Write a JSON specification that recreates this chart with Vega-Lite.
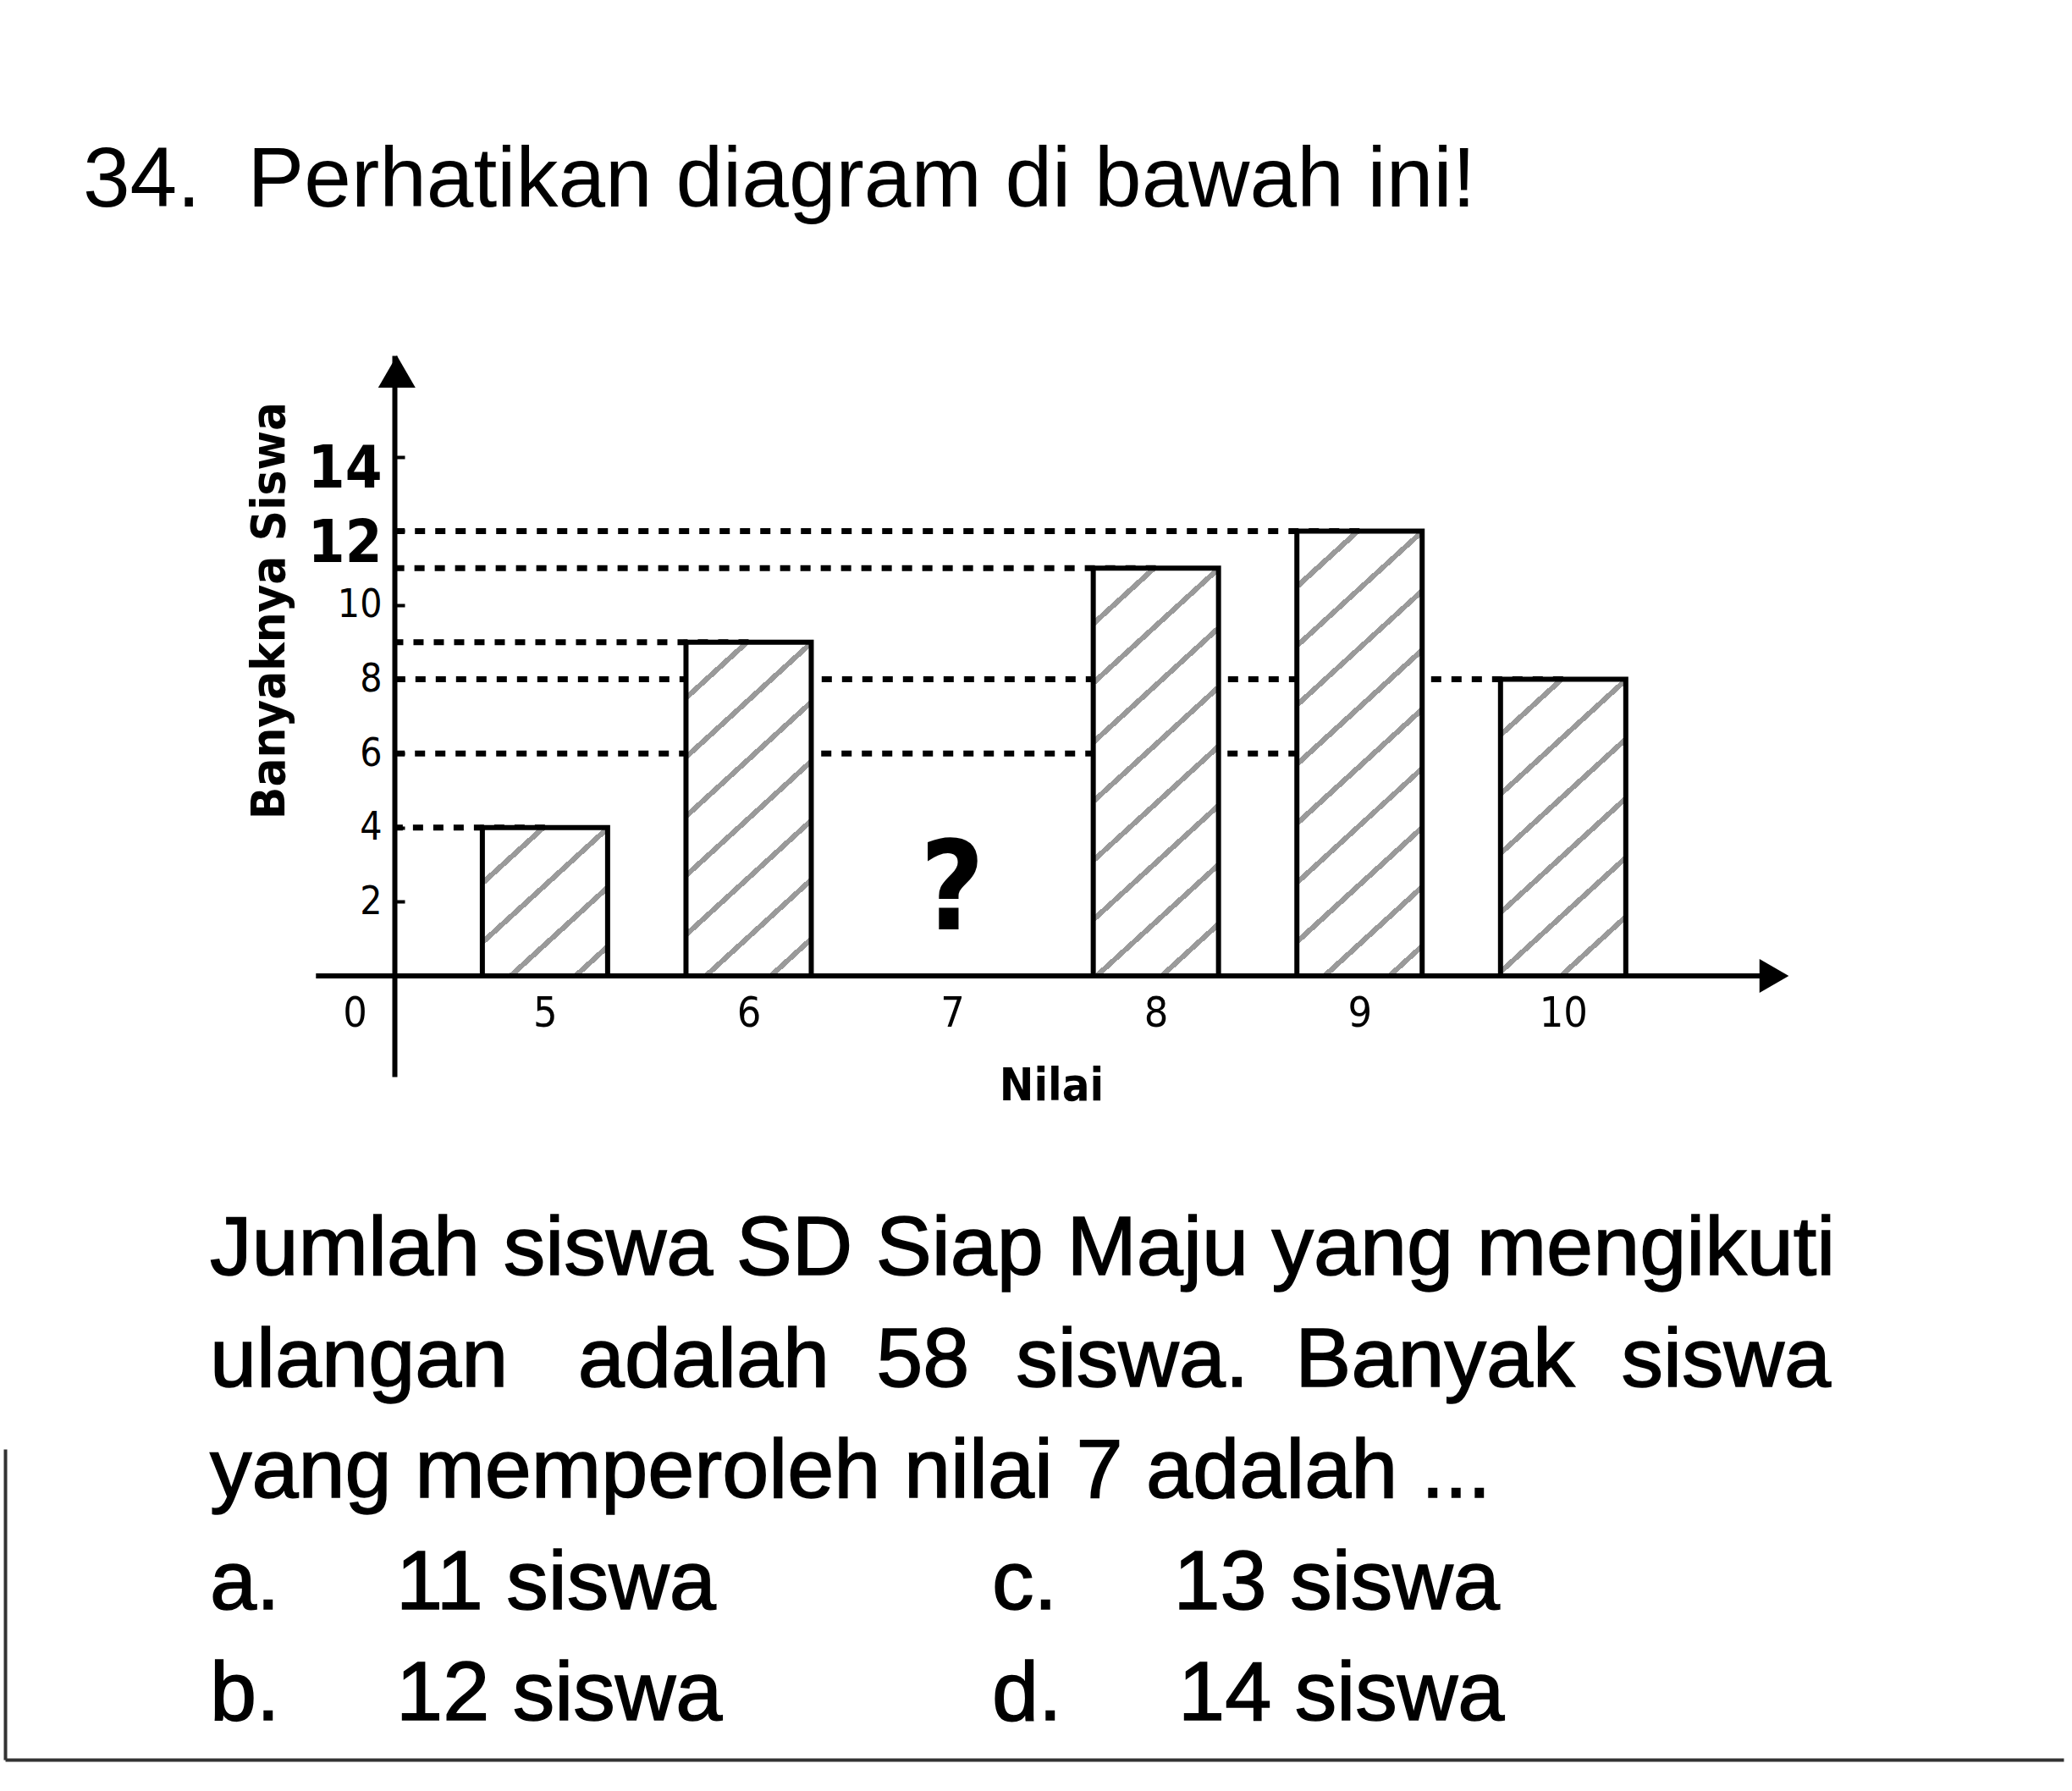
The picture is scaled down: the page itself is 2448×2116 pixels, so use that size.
{
  "$schema": "https://vega.github.io/schema/vega-lite/v6.json",
  "background": "white",
  "padding": {"left": 6, "top": 164, "right": 6, "bottom": 20},
  "bounds": "flush",
  "spacing": 440,
  "config": {"view": {"stroke": null}, "font": "Liberation Sans"},
  "datasets": {
    "nilai": [
      {"nilai": 5, "siswa": 4},
      {"nilai": 6, "siswa": 9},
      {"nilai": 7, "siswa": null, "keterangan": "?"},
      {"nilai": 8, "siswa": 11},
      {"nilai": 9, "siswa": 12},
      {"nilai": 10, "siswa": 8}
    ],
    "garis": [
      {"nilai": 9, "siswa": 12},
      {"nilai": 8, "siswa": 11},
      {"nilai": 6, "siswa": 9},
      {"nilai": 10, "siswa": 8},
      {"nilai": 9, "siswa": 6},
      {"nilai": 5, "siswa": 4}
    ],
    "soal": [
      {"baris": 1, "kolom": 1, "teks": "Jumlah siswa SD Siap Maju yang mengikuti"},
      {"baris": 2, "kolom": 1, "teks": "ulangan\u00a0\u00a0 adalah\u00a0 58\u00a0 siswa.\u00a0 Banyak\u00a0 siswa"},
      {"baris": 3, "kolom": 1, "teks": "yang memperoleh nilai 7 adalah ..."},
      {"baris": 4, "kolom": 1, "teks": "a.\u00a0\u00a0\u00a0\u00a0\u00a011 siswa"},
      {"baris": 4, "kolom": 2, "teks": "c.\u00a0\u00a0\u00a0\u00a0\u00a013 siswa"},
      {"baris": 5, "kolom": 1, "teks": "b.\u00a0\u00a0\u00a0\u00a0\u00a012 siswa"},
      {"baris": 5, "kolom": 2, "teks": "d.\u00a0\u00a0\u00a0\u00a0\u00a014 siswa"}
    ]
  },
  "vconcat": [
    {
      "width": 2112,
      "height": 852,
      "title": {
        "text": "34.\u00a0 Perhatikan diagram di bawah ini!",
        "anchor": "start",
        "frame": "group",
        "orient": "top",
        "baseline": "alphabetic",
        "offset": 76,
        "dx": 92,
        "font": "Liberation Sans",
        "fontSize": 100,
        "fontWeight": "normal",
        "color": "black"
      },
      "data": {"name": "nilai"},
      "layer": [
        {
          "data": {"name": "garis"},
          "mark": {"type": "rule", "color": "black", "strokeWidth": 7, "strokeDash": [12, 12]},
          "encoding": {
            "x": {
              "field": "nilai",
              "type": "quantitative",
              "scale": {"domain": [2.3694, 11.1064], "nice": false, "zero": false},
              "axis": {
                "orient": "bottom",
                "offset": -119,
                "domain": false,
                "ticks": false,
                "grid": false,
                "values": [4.0655, 5, 6, 7, 8, 9, 10],
                "labelExpr": "datum.value < 4.5 ? '0' : '' + datum.value",
                "labelFont": "DejaVu Sans Condensed, DejaVu Sans",
                "labelFontSize": 50,
                "labelColor": "black",
                "labelPadding": 44,
                "labelBaseline": "middle",
                "labelFlush": false,
                "labelOverlap": false,
                "title": "Nilai",
                "titleFont": "DejaVu Sans Condensed, DejaVu Sans",
                "titleFontSize": 54,
                "titleFontWeight": "bold",
                "titleColor": "black",
                "titleX": 1236,
                "titleY": 130,
                "titleBaseline": "middle",
                "titleAlign": "center"
              }
            },
            "y": {
              "field": "siswa",
              "type": "quantitative",
              "scale": {"domain": [-2.717, 16.735], "nice": false, "zero": false},
              "axis": {
                "orient": "left",
                "offset": -460,
                "values": [2, 4, 6, 8, 10, 12, 14],
                "domain": true,
                "domainColor": "black",
                "domainWidth": 6,
                "ticks": true,
                "tickColor": "black",
                "tickWidth": 4,
                "tickSize": -12,
                "grid": false,
                "labelFont": "DejaVu Sans Condensed, DejaVu Sans",
                "labelFontSize": {"condition": {"test": "datum.value >= 12", "value": 70}, "value": 46},
                "labelFontWeight": {"condition": {"test": "datum.value >= 12", "value": "bold"}, "value": "normal"},
                "labelOffset": {"condition": {"test": "datum.value >= 12", "value": 15}, "value": 0},
                "labelColor": "black",
                "labelPadding": 27,
                "labelBaseline": "middle",
                "labelFlush": false,
                "labelOverlap": false,
                "title": "Banyaknya Siswa",
                "titleFont": "DejaVu Sans Condensed, DejaVu Sans",
                "titleFontSize": 56,
                "titleFontWeight": "bold",
                "titleColor": "black",
                "titleX": -148,
                "titleY": 301,
                "titleAngle": 270,
                "titleBaseline": "middle",
                "titleAlign": "center"
              }
            },
            "x2": {"datum": 4.2723}
          }
        },
        {
          "data": {"values": [{}]},
          "mark": {"type": "rule", "color": "black", "strokeWidth": 6},
          "encoding": {
            "x": {"datum": 3.8752, "type": "quantitative", "scale": {"domain": [2.3694, 11.1064], "nice": false, "zero": false}},
            "x2": {"datum": 11.04},
            "y": {"datum": 0, "type": "quantitative", "scale": {"domain": [-2.717, 16.735], "nice": false, "zero": false}}
          }
        },
        {
          "transform": [{"filter": "datum.nilai == 5"}],
          "mark": {
            "type": "bar", "orient": "vertical", "width": 148, "stroke": "black", "strokeWidth": 6,
            "fill": {"gradient": "linear", "x1": 0, "y1": 0, "x2": 1, "y2": 1.298, "stops": [
              {"offset": 0, "color": "white"},
              {"offset": 0.1698, "color": "white"}, {"offset": 0.1698, "color": "#9a9a9a"}, {"offset": 0.193, "color": "#9a9a9a"}, {"offset": 0.193, "color": "white"},
              {"offset": 0.3628, "color": "white"}, {"offset": 0.3628, "color": "#9a9a9a"}, {"offset": 0.386, "color": "#9a9a9a"}, {"offset": 0.386, "color": "white"},
              {"offset": 0.5558, "color": "white"}, {"offset": 0.5558, "color": "#9a9a9a"}, {"offset": 0.579, "color": "#9a9a9a"}, {"offset": 0.579, "color": "white"},
              {"offset": 0.7488, "color": "white"}, {"offset": 0.7488, "color": "#9a9a9a"}, {"offset": 0.772, "color": "#9a9a9a"}, {"offset": 0.772, "color": "white"},
              {"offset": 1, "color": "white"}
            ]}
          },
          "encoding": {
            "x": {"field": "nilai", "type": "quantitative", "scale": {"domain": [2.3694, 11.1064], "nice": false, "zero": false}},
            "y": {"field": "siswa", "type": "quantitative", "scale": {"domain": [-2.717, 16.735], "nice": false, "zero": false}}
          }
        },
        {
          "transform": [{"filter": "datum.nilai == 6"}],
          "mark": {
            "type": "bar", "orient": "vertical", "width": 148, "stroke": "black", "strokeWidth": 6,
            "fill": {"gradient": "linear", "x1": 0, "y1": 0, "x2": 1, "y2": 2.92, "stops": [
              {"offset": 0, "color": "white"},
              {"offset": 0.0479, "color": "white"}, {"offset": 0.0479, "color": "#9a9a9a"}, {"offset": 0.0544, "color": "#9a9a9a"}, {"offset": 0.0544, "color": "white"},
              {"offset": 0.1023, "color": "white"}, {"offset": 0.1023, "color": "#9a9a9a"}, {"offset": 0.1088, "color": "#9a9a9a"}, {"offset": 0.1088, "color": "white"},
              {"offset": 0.1567, "color": "white"}, {"offset": 0.1567, "color": "#9a9a9a"}, {"offset": 0.1632, "color": "#9a9a9a"}, {"offset": 0.1632, "color": "white"},
              {"offset": 0.2111, "color": "white"}, {"offset": 0.2111, "color": "#9a9a9a"}, {"offset": 0.2176, "color": "#9a9a9a"}, {"offset": 0.2176, "color": "white"},
              {"offset": 0.2655, "color": "white"}, {"offset": 0.2655, "color": "#9a9a9a"}, {"offset": 0.272, "color": "#9a9a9a"}, {"offset": 0.272, "color": "white"},
              {"offset": 0.3199, "color": "white"}, {"offset": 0.3199, "color": "#9a9a9a"}, {"offset": 0.3264, "color": "#9a9a9a"}, {"offset": 0.3264, "color": "white"},
              {"offset": 0.3743, "color": "white"}, {"offset": 0.3743, "color": "#9a9a9a"}, {"offset": 0.3808, "color": "#9a9a9a"}, {"offset": 0.3808, "color": "white"},
              {"offset": 1, "color": "white"}
            ]}
          },
          "encoding": {
            "x": {"field": "nilai", "type": "quantitative", "scale": {"domain": [2.3694, 11.1064], "nice": false, "zero": false}},
            "y": {"field": "siswa", "type": "quantitative", "scale": {"domain": [-2.717, 16.735], "nice": false, "zero": false}}
          }
        },
        {
          "transform": [{"filter": "datum.nilai == 8"}],
          "mark": {
            "type": "bar", "orient": "vertical", "width": 148, "stroke": "black", "strokeWidth": 6,
            "fill": {"gradient": "linear", "x1": 0, "y1": 0, "x2": 1, "y2": 3.569, "stops": [
              {"offset": 0, "color": "white"},
              {"offset": 0.0332, "color": "white"}, {"offset": 0.0332, "color": "#9a9a9a"}, {"offset": 0.0377, "color": "#9a9a9a"}, {"offset": 0.0377, "color": "white"},
              {"offset": 0.0709, "color": "white"}, {"offset": 0.0709, "color": "#9a9a9a"}, {"offset": 0.0754, "color": "#9a9a9a"}, {"offset": 0.0754, "color": "white"},
              {"offset": 0.1087, "color": "white"}, {"offset": 0.1087, "color": "#9a9a9a"}, {"offset": 0.1132, "color": "#9a9a9a"}, {"offset": 0.1132, "color": "white"},
              {"offset": 0.1464, "color": "white"}, {"offset": 0.1464, "color": "#9a9a9a"}, {"offset": 0.1509, "color": "#9a9a9a"}, {"offset": 0.1509, "color": "white"},
              {"offset": 0.1841, "color": "white"}, {"offset": 0.1841, "color": "#9a9a9a"}, {"offset": 0.1886, "color": "#9a9a9a"}, {"offset": 0.1886, "color": "white"},
              {"offset": 0.2218, "color": "white"}, {"offset": 0.2218, "color": "#9a9a9a"}, {"offset": 0.2263, "color": "#9a9a9a"}, {"offset": 0.2263, "color": "white"},
              {"offset": 0.2595, "color": "white"}, {"offset": 0.2595, "color": "#9a9a9a"}, {"offset": 0.264, "color": "#9a9a9a"}, {"offset": 0.264, "color": "white"},
              {"offset": 0.2973, "color": "white"}, {"offset": 0.2973, "color": "#9a9a9a"}, {"offset": 0.3018, "color": "#9a9a9a"}, {"offset": 0.3018, "color": "white"},
              {"offset": 1, "color": "white"}
            ]}
          },
          "encoding": {
            "x": {"field": "nilai", "type": "quantitative", "scale": {"domain": [2.3694, 11.1064], "nice": false, "zero": false}},
            "y": {"field": "siswa", "type": "quantitative", "scale": {"domain": [-2.717, 16.735], "nice": false, "zero": false}}
          }
        },
        {
          "transform": [{"filter": "datum.nilai == 9"}],
          "mark": {
            "type": "bar", "orient": "vertical", "width": 148, "stroke": "black", "strokeWidth": 6,
            "fill": {"gradient": "linear", "x1": 0, "y1": 0, "x2": 1, "y2": 3.893, "stops": [
              {"offset": 0, "color": "white"},
              {"offset": 0.0282, "color": "white"}, {"offset": 0.0282, "color": "#9a9a9a"}, {"offset": 0.0321, "color": "#9a9a9a"}, {"offset": 0.0321, "color": "white"},
              {"offset": 0.0603, "color": "white"}, {"offset": 0.0603, "color": "#9a9a9a"}, {"offset": 0.0641, "color": "#9a9a9a"}, {"offset": 0.0641, "color": "white"},
              {"offset": 0.0924, "color": "white"}, {"offset": 0.0924, "color": "#9a9a9a"}, {"offset": 0.0962, "color": "#9a9a9a"}, {"offset": 0.0962, "color": "white"},
              {"offset": 0.1244, "color": "white"}, {"offset": 0.1244, "color": "#9a9a9a"}, {"offset": 0.1283, "color": "#9a9a9a"}, {"offset": 0.1283, "color": "white"},
              {"offset": 0.1565, "color": "white"}, {"offset": 0.1565, "color": "#9a9a9a"}, {"offset": 0.1604, "color": "#9a9a9a"}, {"offset": 0.1604, "color": "white"},
              {"offset": 0.1886, "color": "white"}, {"offset": 0.1886, "color": "#9a9a9a"}, {"offset": 0.1924, "color": "#9a9a9a"}, {"offset": 0.1924, "color": "white"},
              {"offset": 0.2206, "color": "white"}, {"offset": 0.2206, "color": "#9a9a9a"}, {"offset": 0.2245, "color": "#9a9a9a"}, {"offset": 0.2245, "color": "white"},
              {"offset": 0.2527, "color": "white"}, {"offset": 0.2527, "color": "#9a9a9a"}, {"offset": 0.2566, "color": "#9a9a9a"}, {"offset": 0.2566, "color": "white"},
              {"offset": 0.2848, "color": "white"}, {"offset": 0.2848, "color": "#9a9a9a"}, {"offset": 0.2886, "color": "#9a9a9a"}, {"offset": 0.2886, "color": "white"},
              {"offset": 1, "color": "white"}
            ]}
          },
          "encoding": {
            "x": {"field": "nilai", "type": "quantitative", "scale": {"domain": [2.3694, 11.1064], "nice": false, "zero": false}},
            "y": {"field": "siswa", "type": "quantitative", "scale": {"domain": [-2.717, 16.735], "nice": false, "zero": false}}
          }
        },
        {
          "transform": [{"filter": "datum.nilai == 10"}],
          "mark": {
            "type": "bar", "orient": "vertical", "width": 148, "stroke": "black", "strokeWidth": 6,
            "fill": {"gradient": "linear", "x1": 0, "y1": 0, "x2": 1, "y2": 2.596, "stops": [
              {"offset": 0, "color": "white"},
              {"offset": 0.059, "color": "white"}, {"offset": 0.059, "color": "#9a9a9a"}, {"offset": 0.067, "color": "#9a9a9a"}, {"offset": 0.067, "color": "white"},
              {"offset": 0.1259, "color": "white"}, {"offset": 0.1259, "color": "#9a9a9a"}, {"offset": 0.1339, "color": "#9a9a9a"}, {"offset": 0.1339, "color": "white"},
              {"offset": 0.1929, "color": "white"}, {"offset": 0.1929, "color": "#9a9a9a"}, {"offset": 0.2009, "color": "#9a9a9a"}, {"offset": 0.2009, "color": "white"},
              {"offset": 0.2599, "color": "white"}, {"offset": 0.2599, "color": "#9a9a9a"}, {"offset": 0.2679, "color": "#9a9a9a"}, {"offset": 0.2679, "color": "white"},
              {"offset": 0.3269, "color": "white"}, {"offset": 0.3269, "color": "#9a9a9a"}, {"offset": 0.3349, "color": "#9a9a9a"}, {"offset": 0.3349, "color": "white"},
              {"offset": 0.3938, "color": "white"}, {"offset": 0.3938, "color": "#9a9a9a"}, {"offset": 0.4018, "color": "#9a9a9a"}, {"offset": 0.4018, "color": "white"},
              {"offset": 1, "color": "white"}
            ]}
          },
          "encoding": {
            "x": {"field": "nilai", "type": "quantitative", "scale": {"domain": [2.3694, 11.1064], "nice": false, "zero": false}},
            "y": {"field": "siswa", "type": "quantitative", "scale": {"domain": [-2.717, 16.735], "nice": false, "zero": false}}
          }
        },
        {
          "transform": [{"filter": "datum.nilai == 7"}],
          "mark": {"type": "text", "font": "DejaVu Sans Condensed, DejaVu Sans", "fontSize": 146, "fontWeight": "bold", "baseline": "middle", "align": "center", "color": "black"},
          "encoding": {
            "x": {"field": "nilai", "type": "quantitative", "scale": {"domain": [2.3694, 11.1064], "nice": false, "zero": false}},
            "y": {"datum": 2.25, "type": "quantitative", "scale": {"domain": [-2.717, 16.735], "nice": false, "zero": false}},
            "text": {"field": "keterangan"}
          }
        },
        {
          "data": {"values": [{}]},
          "mark": {"type": "point", "shape": "triangle-up", "filled": true, "color": "black", "size": 1936, "opacity": 1},
          "encoding": {
            "x": {"datum": 4.2723, "type": "quantitative", "scale": {"domain": [2.3694, 11.1064], "nice": false, "zero": false}},
            "y": {"datum": 16.3, "type": "quantitative", "scale": {"domain": [-2.717, 16.735], "nice": false, "zero": false}}
          }
        },
        {
          "data": {"values": [{}]},
          "mark": {"type": "point", "shape": "triangle-right", "filled": true, "color": "black", "size": 1600, "opacity": 1},
          "encoding": {
            "x": {"datum": 11.036, "type": "quantitative", "scale": {"domain": [2.3694, 11.1064], "nice": false, "zero": false}},
            "y": {"datum": 0, "type": "quantitative", "scale": {"domain": [-2.717, 16.735], "nice": false, "zero": false}}
          }
        }
      ]
    },
    {
      "width": 2432,
      "height": 367,
      "data": {"name": "soal"},
      "mark": {"type": "text", "align": "left", "baseline": "alphabetic", "font": "Liberation Sans", "fontSize": 99, "color": "black", "stroke": "black", "strokeWidth": 1.5},
      "encoding": {
        "x": {
          "field": "kolom", "type": "quantitative",
          "scale": {"domain": [0.7381, 3.3701], "nice": false, "zero": false},
          "axis": {"domain": true, "domainColor": "#333333", "domainWidth": 4, "ticks": false, "labels": false, "grid": false, "title": null}
        },
        "y": {
          "field": "baris", "type": "quantitative",
          "scale": {"domain": [2.5665, 5.3574], "reverse": true, "nice": false, "zero": false},
          "axis": {"domain": true, "domainColor": "#333333", "domainWidth": 4, "ticks": false, "labels": false, "grid": false, "title": null}
        },
        "text": {"field": "teks"}
      }
    }
  ]
}
